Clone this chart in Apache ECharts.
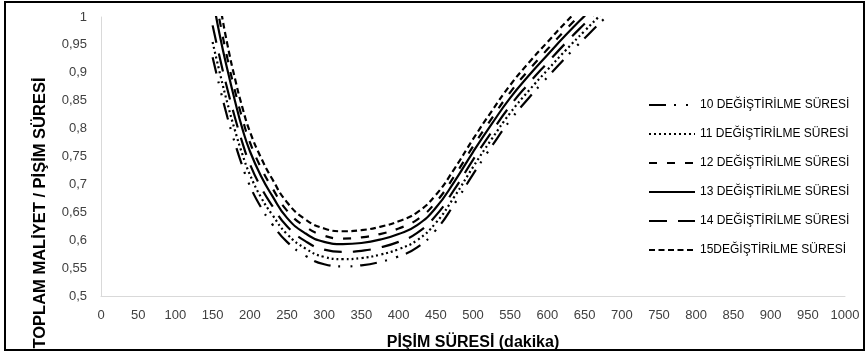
<!DOCTYPE html>
<html>
<head>
<meta charset="utf-8">
<script src="https://cdn.jsdelivr.net/npm/echarts@6/dist/echarts.min.js"></script>
<style>html,body{margin:0;padding:0;background:#fff}#c{width:868px;height:352px}</style>
</head>
<body>
<div id="c"></div>
<script>
const xs = [150,160,170,180,190,200,215,230,250,275,300,325,350,375,400,425,450,475,500,525,550,575,600,625,650,675,700];
const s10 = [0.928,0.872,0.820,0.774,0.733,0.698,0.659,0.629,0.597,0.572,0.557,0.553,0.555,0.561,0.571,0.587,0.618,0.665,0.718,0.768,0.815,0.855,0.892,0.928,0.962,0.995,1.025];
const s11 = [0.955,0.898,0.845,0.797,0.754,0.718,0.677,0.646,0.611,0.585,0.570,0.566,0.568,0.574,0.584,0.600,0.631,0.678,0.731,0.781,0.828,0.868,0.905,0.941,0.975,1.008,1.038];
const s12 = [1.060,0.990,0.925,0.868,0.818,0.776,0.730,0.694,0.653,0.624,0.608,0.603,0.605,0.611,0.621,0.637,0.668,0.715,0.768,0.818,0.865,0.905,0.942,0.978,1.012,1.045,1.075];
const s13 = [1.035,0.965,0.905,0.850,0.800,0.760,0.715,0.680,0.640,0.612,0.597,0.593,0.595,0.601,0.611,0.627,0.658,0.705,0.758,0.808,0.855,0.895,0.932,0.968,1.002,1.035,1.065];
const s14 = [0.985,0.925,0.870,0.820,0.775,0.737,0.695,0.662,0.625,0.598,0.583,0.579,0.581,0.587,0.597,0.613,0.644,0.691,0.744,0.794,0.841,0.881,0.918,0.954,0.988,1.021,1.051];
const s15 = [1.090,1.020,0.950,0.890,0.838,0.795,0.748,0.710,0.668,0.637,0.621,0.616,0.618,0.624,0.634,0.650,0.681,0.728,0.781,0.831,0.878,0.918,0.955,0.991,1.025,1.058,1.088];
const names = ['10 DEĞİŞTİRİLME SÜRESİ','11 DEĞİŞTİRİLME SÜRESİ','12 DEĞİŞTİRİLME SÜRESİ','13 DEĞİŞTİRİLME SÜRESİ','14 DEĞİŞTİRİLME SÜRESİ','15DEĞİŞTİRİLME SÜRESİ'];
const xTitle = 'PİŞİM SÜRESİ (dakika)';
const yTitle = 'TOPLAM MALİYET / PİŞİM SÜRESİ';

const dashes = [[17,8,2,10,2,8],[2,3],[8,10],'solid',[18,11],[6,3.5]];
const seriesData = [s10,s11,s12,s13,s14,s15];
const font = 'Liberation Sans, Arial, sans-serif';

const chart = echarts.init(document.getElementById('c'), null, {renderer:'canvas'});
chart.setOption({
  animation:false,
  backgroundColor:'#fff',
  grid:{left:101,right:23,top:17,bottom:56,containLabel:false,outerBoundsMode:'none'},
  legend:{
    orient:'vertical', left:643, top:94, itemWidth:46, itemHeight:14, itemGap:17,
    textStyle:{fontFamily:font,fontSize:12,color:'#000'},
    itemStyle:{opacity:0,color:'transparent',borderColor:'transparent',borderWidth:0},
    data:names
  },
  xAxis:{
    type:'value', min:0, max:1000, interval:50,
    name:xTitle, nameLocation:'middle', nameGap:39,
    nameTextStyle:{fontFamily:font,fontSize:16,fontWeight:'bold',color:'#000'},
    axisLine:{show:true,lineStyle:{color:'#d9d9d9',width:1}},
    axisTick:{show:false}, splitLine:{show:false},
    axisLabel:{fontFamily:font,fontSize:13,color:'#404040',margin:13,formatter:v=>String(v)}
  },
  yAxis:{
    type:'value', min:0.5, max:1, interval:0.05,
    axisLine:{show:true,lineStyle:{color:'#d9d9d9',width:1}},
    axisTick:{show:false}, splitLine:{show:false},
    axisLabel:{fontFamily:font,fontSize:13,color:'#404040',margin:14,
      formatter:v=>String(Math.round(v*100)/100).replace('.',',')}
  },
  graphic:[
    {type:'rect',shape:{x:5,y:2,width:859,height:348},style:{fill:'none',stroke:'#000',lineWidth:2},silent:true},
    {type:'text',x:40,y:213,rotation:Math.PI/2,silent:true,
      style:{text:yTitle,align:'center',verticalAlign:'middle',fontFamily:font,fontSize:16.5,fontWeight:'bold',fill:'#000'}}
  ],
  series: seriesData.map((d,i)=>({
    name:names[i], type:'line', smooth:true, symbol:'none', clip:true,
    data: xs.map((x,j)=>[x,d[j]]),
    lineStyle:{color:'#000', width:2.2, type:dashes[i]},
    itemStyle:{color:'#000'}
  }))
});
</script>
</body>
</html>
